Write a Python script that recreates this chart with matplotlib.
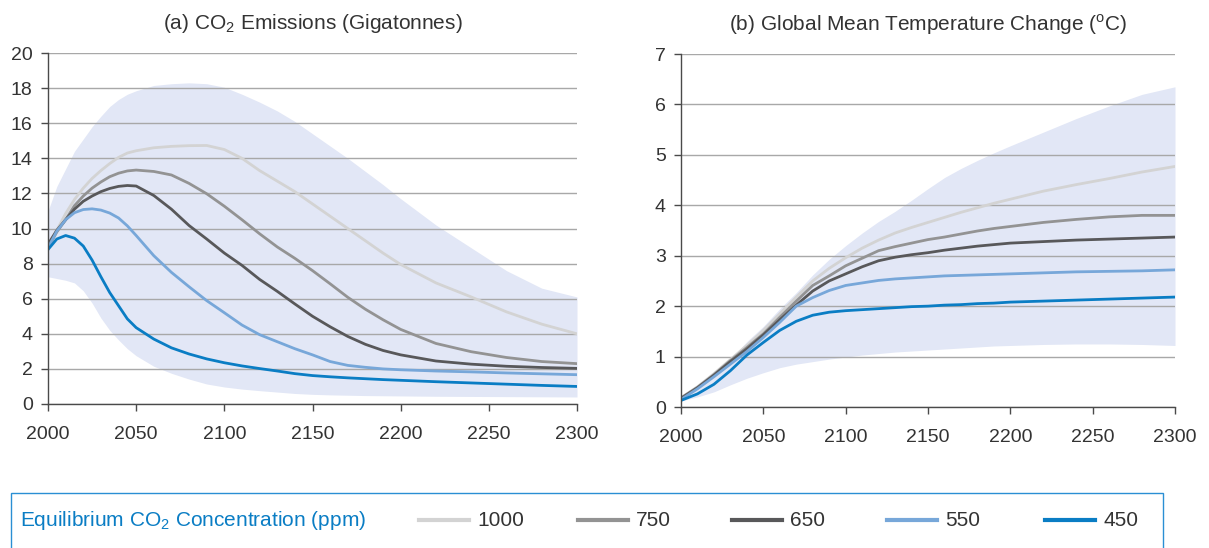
import matplotlib
matplotlib.use("Agg")
import matplotlib.pyplot as plt
from matplotlib.lines import Line2D
from matplotlib.patches import Rectangle

plt.rcParams['font.family'] = ['Liberation Sans', 'DejaVu Sans']
plt.rcParams['mathtext.fontset'] = 'custom'
plt.rcParams['mathtext.rm'] = 'Liberation Sans'

# ---------------- data ----------------
scenarios = ["1000", "750", "650", "550", "450"]
colors = ["#d3d3d3", "#939393", "#58585a", "#77a7d9", "#0a7dc4"]

years_a = [2000, 2005, 2010, 2015, 2020, 2025, 2030, 2035, 2040, 2045, 2050, 2060, 2070,
           2080, 2090, 2100, 2110, 2120, 2130, 2140, 2150, 2160, 2170, 2180, 2190, 2200,
           2220, 2240, 2260, 2280, 2300]
em_1000 = [8.8, 9.9, 10.85, 11.65, 12.3, 12.85, 13.3, 13.7, 14.05, 14.3, 14.43, 14.6, 14.68,
           14.72, 14.73, 14.5, 14.0, 13.3, 12.7, 12.1, 11.4, 10.7, 10.0, 9.3, 8.6, 7.95,
           6.9, 6.1, 5.25, 4.55, 4.0]
em_750 = [8.9, 9.8, 10.5, 11.3, 11.85, 12.3, 12.65, 12.95, 13.15, 13.28, 13.33, 13.25, 13.05,
          12.57, 11.98, 11.27, 10.5, 9.7, 8.95, 8.3, 7.6, 6.85, 6.08, 5.4, 4.8, 4.25,
          3.45, 2.98, 2.65, 2.42, 2.3]
em_650 = [9.1, 9.9, 10.5, 11.1, 11.55, 11.85, 12.1, 12.28, 12.4, 12.45, 12.42, 11.88, 11.1,
          10.17, 9.4, 8.6, 7.9, 7.1, 6.42, 5.7, 5.0, 4.4, 3.85, 3.4, 3.05, 2.8,
          2.45, 2.27, 2.15, 2.08, 2.03]
em_550 = [8.9, 9.85, 10.5, 10.9, 11.08, 11.12, 11.05, 10.88, 10.6, 10.15, 9.6, 8.45, 7.5,
          6.68, 5.89, 5.2, 4.5, 3.95, 3.55, 3.15, 2.8, 2.42, 2.2, 2.09, 2.0, 1.95,
          1.88, 1.83, 1.77, 1.72, 1.67]
em_450 = [8.8, 9.4, 9.6, 9.45, 9.0, 8.2, 7.25, 6.35, 5.6, 4.85, 4.35, 3.7, 3.2,
          2.85, 2.57, 2.35, 2.17, 2.02, 1.88, 1.73, 1.62, 1.55, 1.49, 1.44, 1.39, 1.35,
          1.27, 1.2, 1.13, 1.06, 1.0]
em_band_hi = [11.0, 12.4, 13.4, 14.4, 15.1, 15.8, 16.4, 16.95, 17.35, 17.65, 17.85, 18.15, 18.25,
              18.3, 18.25, 18.05, 17.65, 17.2, 16.7, 16.1, 15.4, 14.7, 14.0, 13.25, 12.5, 11.7,
              10.2, 8.9, 7.6, 6.6, 6.1]
em_band_lo = [7.25, 7.15, 7.05, 6.9, 6.45, 5.75, 4.9, 4.2, 3.65, 3.15, 2.75, 2.15, 1.75,
              1.42, 1.14, 0.97, 0.85, 0.76, 0.68, 0.6, 0.55, 0.52, 0.5, 0.48, 0.47, 0.46,
              0.44, 0.43, 0.42, 0.41, 0.4]

years_b = [2000, 2010, 2020, 2030, 2040, 2050, 2060, 2070, 2080, 2090, 2100, 2110, 2120,
           2130, 2140, 2150, 2160, 2170, 2180, 2190, 2200, 2220, 2240, 2260, 2280, 2300]
t_1000 = [0.18, 0.4, 0.66, 0.94, 1.22, 1.52, 1.85, 2.18, 2.5, 2.75, 2.96, 3.15, 3.31,
          3.45, 3.56, 3.66, 3.76, 3.86, 3.95, 4.04, 4.12, 4.28, 4.41, 4.53, 4.66, 4.77]
t_750 = [0.18, 0.39, 0.64, 0.92, 1.18, 1.45, 1.78, 2.1, 2.41, 2.6, 2.8, 2.95, 3.1,
         3.18, 3.25, 3.32, 3.37, 3.43, 3.49, 3.54, 3.58, 3.66, 3.72, 3.77, 3.8, 3.8]
t_650 = [0.17, 0.38, 0.63, 0.9, 1.15, 1.43, 1.73, 2.02, 2.3, 2.5, 2.64, 2.78, 2.9,
         2.97, 3.02, 3.06, 3.11, 3.15, 3.19, 3.22, 3.25, 3.28, 3.31, 3.33, 3.35, 3.37]
t_550 = [0.15, 0.36, 0.6, 0.85, 1.1, 1.38, 1.68, 2.0, 2.17, 2.31, 2.41, 2.46, 2.51,
         2.54, 2.56, 2.58, 2.6, 2.61, 2.62, 2.63, 2.64, 2.66, 2.68, 2.69, 2.7, 2.72]
t_450 = [0.13, 0.26, 0.45, 0.72, 1.03, 1.28, 1.52, 1.7, 1.82, 1.88, 1.91, 1.93, 1.95,
         1.97, 1.99, 2.0, 2.02, 2.03, 2.05, 2.06, 2.08, 2.1, 2.12, 2.14, 2.16, 2.18]
t_band_hi = [0.2, 0.42, 0.68, 0.95, 1.3, 1.6, 1.95, 2.27, 2.62, 2.93, 3.2, 3.45, 3.68,
             3.88, 4.1, 4.33, 4.55, 4.73, 4.89, 5.04, 5.18, 5.45, 5.72, 5.97, 6.2, 6.35]
t_band_lo = [0.12, 0.2, 0.3, 0.44, 0.57, 0.68, 0.78, 0.85, 0.9, 0.95, 0.99, 1.03, 1.06,
             1.09, 1.11, 1.13, 1.15, 1.17, 1.19, 1.21, 1.22, 1.24, 1.25, 1.25, 1.24, 1.22]

xticks = [2000, 2050, 2100, 2150, 2200, 2250, 2300]
yticks_a = [0, 2, 4, 6, 8, 10, 12, 14, 16, 18, 20]
yticks_b = [0, 1, 2, 3, 4, 5, 6, 7]

title_a = "(a) CO$_2$ Emissions (Gigatonnes)"
title_b = "(b) Global Mean Temperature Change ($^{\\mathrm{o}}$C)"
legend_title = "Equilibrium CO$_2$ Concentration (ppm)"

# ---------------- figure ----------------
W, H = 1209, 548
fig = plt.figure(figsize=(W / 100, H / 100), dpi=100)

band_color = "#e2e7f6"
grid_color = "#a8a8a8"
spine_color = "#4a4a4a"
text_color = "#333333"


def px_axes(x0, x1, ytop, ybot):
    return fig.add_axes([x0 / W, 1 - ybot / H, (x1 - x0) / W, (ybot - ytop) / H])


def style(ax, yticks, title):
    ax.set_xlim(2000, 2300)
    ax.set_ylim(yticks[0], yticks[-1])
    ax.set_xticks(xticks)
    ax.set_yticks(yticks)
    ax.set_facecolor("white")
    for s in ["top", "right"]:
        ax.spines[s].set_visible(False)
    for s in ["left", "bottom"]:
        ax.spines[s].set_color(spine_color)
        ax.spines[s].set_linewidth(1.0)
        ax.spines[s].set_zorder(5)
    ax.set_axisbelow(True)
    ax.grid(axis="y", color=grid_color, linewidth=1.0)
    ax.tick_params(axis="both", colors=spine_color, labelcolor=text_color,
                   labelsize=14, length=5, width=1.0)
    ax.tick_params(axis="x", pad=11)
    ax.tick_params(axis="y", pad=6)
    ax.set_title(title, fontsize=15, color=text_color, pad=17)


ax1 = px_axes(48, 577, 53, 404)
ax1.fill_between(years_a, em_band_lo, em_band_hi, color=band_color, linewidth=0, zorder=0.2)
for vals, c in zip([em_1000, em_750, em_650, em_550, em_450], colors):
    ax1.plot(years_a, vals, color=c, linewidth=2.0, zorder=3, solid_joinstyle="round")
style(ax1, yticks_a, title_a)

ax2 = px_axes(681, 1175, 54, 407)
ax2.fill_between(years_b, t_band_lo, t_band_hi, color=band_color, linewidth=0, zorder=0.2)
for vals, c in zip([t_1000, t_750, t_650, t_550, t_450], colors):
    ax2.plot(years_b, vals, color=c, linewidth=2.0, zorder=3, solid_joinstyle="round")
style(ax2, yticks_b, title_b)

# ---------------- legend box ----------------
fig.add_artist(Rectangle((11 / W, -0.05), (1163 - 11) / W, 1 - 492.5 / H + 0.05,
                         transform=fig.transFigure, facecolor="none",
                         edgecolor="#2a8fd4", linewidth=1.0))
ly = 1 - 520 / H
fig.text(20 / W, ly, legend_title, color="#0a7dc4", fontsize=15, va="center", ha="left")
lx = [419, 578, 732, 887, 1045]
for x0, lab, c in zip(lx, scenarios, colors):
    fig.add_artist(Line2D([x0 / W, (x0 + 50) / W], [ly, ly], color=c, linewidth=3.0,
                          transform=fig.transFigure))
    fig.text((x0 + 58) / W, ly, lab, color=text_color, fontsize=15, va="center", ha="left")

fig.savefig("out.png", dpi=100)
